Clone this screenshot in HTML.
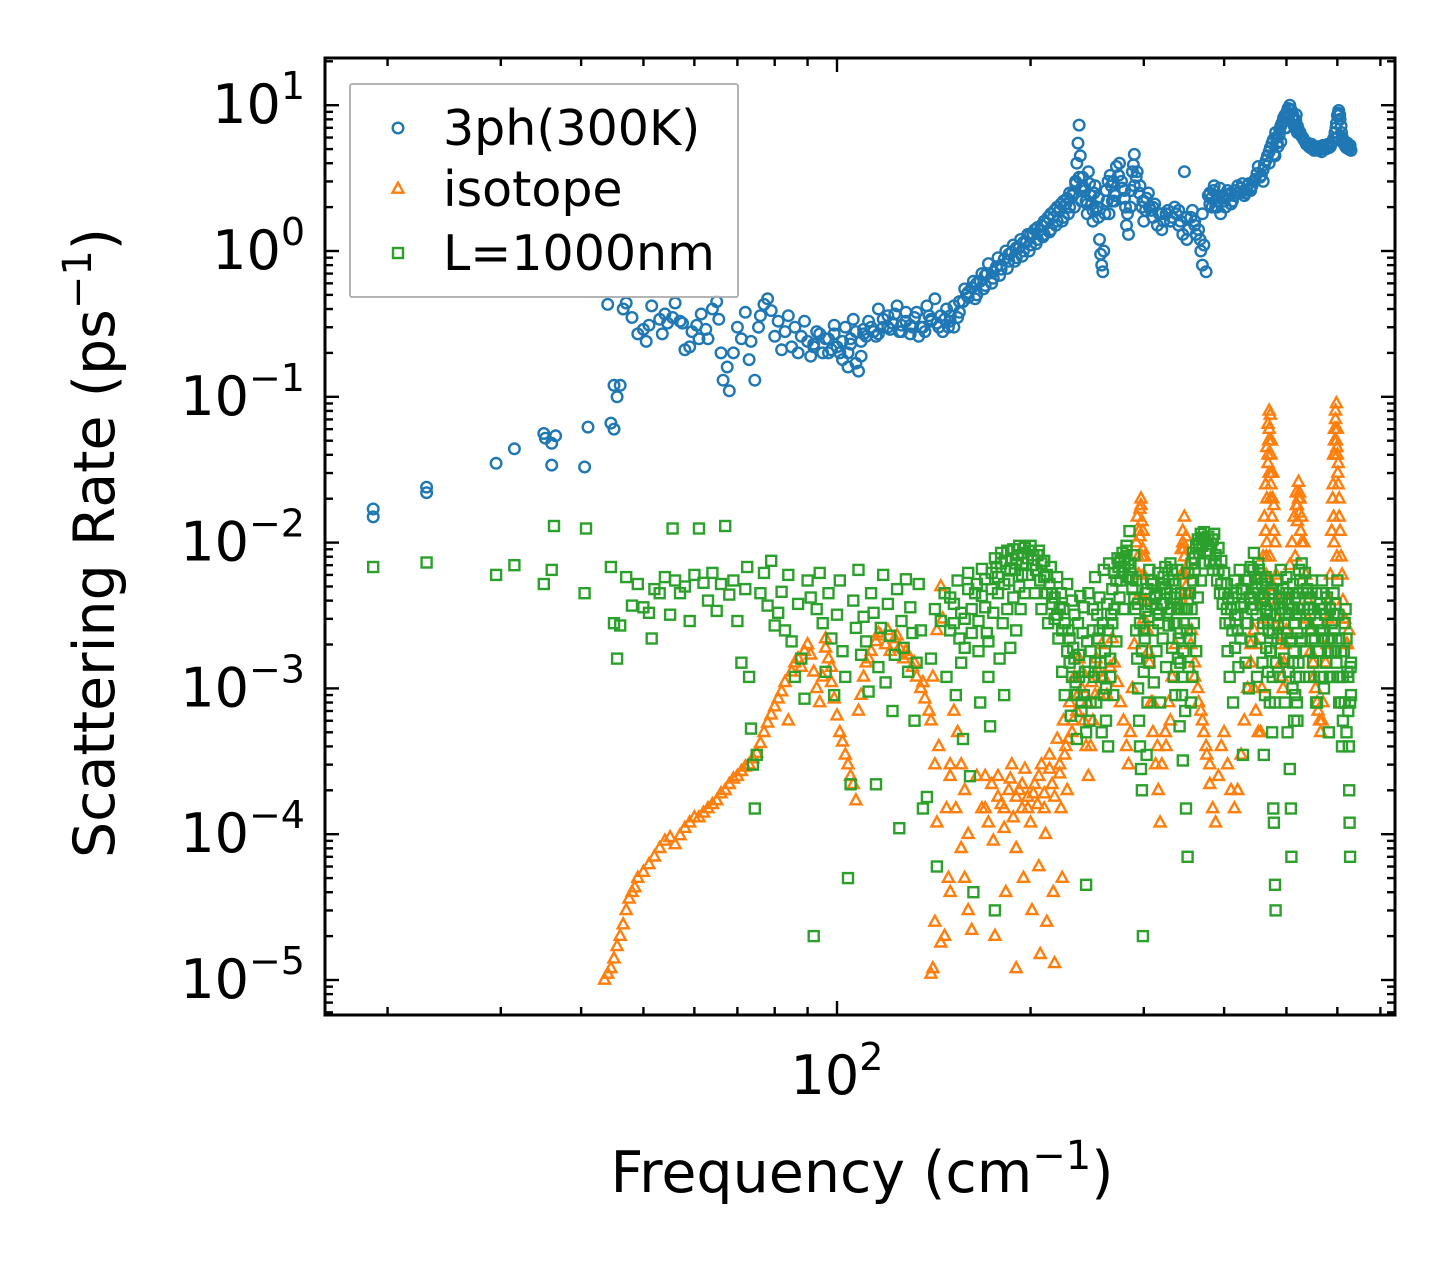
<!DOCTYPE html>
<html><head><meta charset="utf-8">
<style>
html,body{margin:0;padding:0;background:#fff;}
svg{display:block;font-family:"DejaVu Sans","Liberation Sans",sans-serif;}
</style></head>
<body>
<svg id="chart" width="1455" height="1265" viewBox="0 0 1455 1265" xmlns="http://www.w3.org/2000/svg">
<rect x="0" y="0" width="1455" height="1265" fill="#fff"/>
<g id="marks"></g>
<g id="axes"></g>
<g id="legend"></g>
</svg>
<script>
const blueFreq=[19,19,23,23,29.5,31.5,35,35.2,36,36,36.5,40.5,41,45,44.5,45.5,45,46,44,47,46.5,48,49,50,50.5,51,51.5,53,53.5,54,54.5,55.5,56,57,57.5,58,59,59.5,60.5,61,61.5,62.5,63,64,65,65.5,66,66.5,67.5,68,69,70,71,72,73,73.5,74.5,75.5,76,77,78,79,80,81,82,83,84,85,86,87,88,89,90,91,92,93,95,97,99,100,102,103,104,105,106,107,108,109,110,112,114,116,118,120,122,124,126,128,130,132,134,136,138,140,142,144,146,148,150,152,155,158,160,163,165,168,170,172,175,178,180,183,185,188,190,193,195,198,200,203,205,208,210,213,215,218,220,223,225,228,230,233,235,236,237,238,239,240,241,243,245,246,248,250,252,254,256,257,258,259,260,262,264,266,268,270,272,275,277,280,282,284,286,288,290,292,295,298,300,303,306,310,315,320,325,330,335,340,347,345,350,355,360,365,368,370,372,375,378,380,382,385,388,392,395,400,405,410,415,420,425,430,435,440,445,450,455,460,465,470,475,478,482,485,488,492,495,498,500,503,506,509,512,515,518,520,525,530,535,540,545,550,555,560,565,570,575,580,585,590,595,598,600,603,606,609,612,615,620,625,628,630,
96,98,101,105,110,115,120,125,130,135,140,145,150,155,160,165,170,175,180,185,190,195,200,205,210,215,220,225,230,235,240,245,250,255,265,270,280,290,300,310,320,330,340,350,360,370,380,390,400,410,420,430,440,460,470,480,490,500,520,540,560,580,600,620];
const blueRate=[0.017,0.015,0.024,0.022,0.035,0.044,0.056,0.052,0.048,0.034,0.054,0.033,0.062,0.06,0.066,0.1,0.12,0.12,0.43,0.44,0.4,0.35,0.27,0.29,0.24,0.31,0.42,0.34,0.27,0.37,0.32,0.35,0.44,0.33,0.32,0.21,0.22,0.28,0.31,0.25,0.37,0.29,0.25,0.4,0.45,0.34,0.2,0.13,0.16,0.11,0.2,0.3,0.25,0.38,0.18,0.24,0.13,0.3,0.36,0.43,0.47,0.39,0.26,0.33,0.21,0.28,0.36,0.22,0.3,0.2,0.26,0.33,0.24,0.19,0.22,0.28,0.2,0.25,0.27,0.22,0.18,0.3,0.16,0.25,0.34,0.17,0.15,0.24,0.29,0.33,0.28,0.4,0.3,0.36,0.32,0.42,0.31,0.38,0.27,0.35,0.26,0.3,0.42,0.33,0.47,0.3,0.28,0.4,0.36,0.3,0.38,0.55,0.48,0.62,0.5,0.7,0.58,0.82,0.65,0.9,0.75,1.0,0.85,1.1,0.9,1.2,1.0,1.3,1.1,1.4,1.2,1.5,1.3,1.7,1.4,1.9,1.6,2.1,1.7,2.3,2.0,2.5,3.0,4.0,5.5,7.3,4.5,2.2,3.2,2.6,1.8,3.5,2.4,1.6,2.8,2.0,1.2,0.95,0.8,0.72,1.0,2.6,3.0,3.3,2.2,2.5,3.8,4.0,3.0,2.3,1.5,1.3,2.0,3.5,4.6,3.2,2.5,2.0,1.6,2.3,2.0,1.7,1.5,1.4,1.8,1.6,2.0,1.5,3.5,1.3,1.2,1.7,1.5,1.4,1.0,0.8,1.1,0.72,2.4,2.5,2.3,2.6,2.0,2.4,1.8,2.2,2.6,2.5,2.4,2.8,2.7,2.6,2.8,2.7,3.0,3.4,3.2,3.6,4.2,4.8,5.5,4.6,6.0,5.2,6.8,7.5,8.2,7.0,8.8,9.5,10,9.2,8.5,7.8,8.6,7.2,6.5,6.0,5.6,5.3,5.1,5.0,5.2,4.9,5.0,5.3,5.0,5.4,5.2,5.6,6.5,7.5,8.5,9.2,8.0,6.5,5.8,5.4,5.1,5.0,5.3,4.9,
0.25,0.21,0.2,0.23,0.27,0.26,0.3,0.28,0.31,0.3,0.34,0.36,0.33,0.45,0.52,0.6,0.68,0.72,0.8,0.95,1.05,1.15,1.3,1.45,1.6,1.8,2.0,2.2,2.5,2.9,2.7,2.1,1.9,1.7,1.8,2.2,2.6,2.8,2.2,2.0,1.8,1.6,1.9,1.7,1.6,1.8,2.1,2.0,2.3,2.1,2.5,2.4,2.6,3.0,4.0,4.5,5.6,7.0,6.5,5.5,5.1,5.2,6.0,5.5];
const blueFreqB=[92,94,97,99,102,104,107,109,111,113,116,118,121,123,126,128,131,133,137,139,143,147,149,152,154,157,159,162,164,167,169,171,174,177,179,182,184,187,189,192,194,197,199,202,204,207,209,212,214,217,219,222,224,227,229,232,234,238,241,244,247,249,251,253,255,261,263,267,269,271,274,278,281,283,287,289,293,296,299,302,305,308,312,317,322,327,332,337,342,352,357,362,367,383,386,390,394,398,402,407,412,417,422,427,432,437,442,447,452,457,462,467,472,477,481,484,487,490,494,497,501,504,507,511,514,517,522,527,532,537,542,547,552,557,562,567,572,577,582,587,592,597,602,605,608,611,614,618,622,626];
const blueRateB=[0.23,0.27,0.2,0.31,0.24,0.2,0.28,0.19,0.26,0.3,0.27,0.34,0.29,0.37,0.28,0.33,0.3,0.38,0.28,0.36,0.32,0.34,0.3,0.42,0.35,0.45,0.5,0.56,0.47,0.62,0.55,0.7,0.6,0.78,0.68,0.88,0.76,0.98,0.85,1.05,0.92,1.15,1.0,1.3,1.12,1.4,1.25,1.55,1.35,1.7,1.5,1.9,1.6,2.1,1.8,2.4,2.0,3.2,2.8,2.2,2.9,2.1,2.5,1.9,2.3,1.8,2.2,2.8,3.0,2.4,3.3,2.7,2.0,1.8,2.6,3.9,3.5,2.8,2.2,1.9,2.5,1.9,2.1,1.8,1.6,1.9,1.7,1.8,1.6,1.4,1.9,1.3,1.2,2.0,2.8,2.2,2.7,2.4,2.0,2.4,2.2,2.6,2.5,2.9,2.5,2.9,2.8,3.1,3.8,3.3,3.9,4.5,5.1,5.8,6.5,5.5,6.2,7.2,7.8,8.5,9.0,8.2,9.4,8.0,7.2,7.9,6.8,6.2,5.8,5.4,5.2,5.4,4.9,5.1,5.2,4.8,5.1,5.3,5.1,5.4,5.9,7.0,8.8,8.6,7.2,6.0,5.6,5.2,5.5,5.1];
const orangeFreq=[43.5,44,44.5,45,45.5,46,46.5,47,47.5,48,48.5,49,50,51,52,53,54,55,56,57,58,59,60,61,62,63,64,65,66,67,68,69,70,71,72,73,74,75,76,77,78,79,80,81,82,83,84,85,86,87,88,89,90,91,92,93,94,95,96,97,98,99,100,101,102,103,104,105,106,107,108,109,110,111,113,115,117,119,121,123,125,127,129,131,133,135,137,139,141,143,145,146,144,142,143,142,141,140,145,147,148,149,150,152,154,156,158,160,158,160,162,165,168,170,172,175,176,178,180,182,183,185,187,188,190,190,192,194,195,196,198,200,201,203,205,206,207,208,210,211,212,214,216,217,218,220,222,223,224,225,227,228,230,232,234,236,238,240,242,244,246,248,250,252,255,258,260,263,266,268,270,273,276,279,282,284,286,288,290,292,294,295,296,297,298,299,300,302,304,306,308,310,313,316,318,320,324,328,332,336,340,343,345,347,349,351,353,356,360,364,368,372,376,380,384,388,392,396,400,405,410,415,420,425,430,435,440,445,448,452,456,458,460,462,464,466,468,470,472,474,476,478,480,482,484,486,490,494,498,502,506,510,514,518,522,525,528,532,536,540,545,550,555,560,565,570,575,580,585,588,591,594,596,598,600,602,604,606,610,614,620,625,
468,470,473,466,472,475,465,296,298,294,346,348,344,520,524,526,594,597,599,601,592,473,469,463];
const orangeRate=[1.0e-5,1.1e-5,1.2e-5,1.4e-5,1.7e-5,2.0e-5,2.4e-5,3.0e-5,3.6e-5,4.0e-5,4.3e-5,5.0e-5,5.5e-5,6.2e-5,7.0e-5,8.0e-5,9.0e-5,9.5e-5,8.5e-5,9.8e-5,1.1e-4,1.2e-4,1.3e-4,1.3e-4,1.4e-4,1.5e-4,1.6e-4,1.7e-4,1.9e-4,2.0e-4,2.2e-4,2.4e-4,2.5e-4,2.7e-4,2.9e-4,3.0e-4,3.3e-4,3.6e-4,4.2e-4,5.0e-4,5.8e-4,6.6e-4,7.5e-4,8.5e-4,9.5e-4,1.1e-3,6e-4,1.3e-3,1.5e-3,1.6e-3,1.4e-3,1.8e-3,2.0e-3,1.7e-3,1.3e-3,1.0e-3,8e-4,1.2e-3,1.9e-3,1.6e-3,1.1e-3,8.5e-4,6.5e-4,5e-4,4.3e-4,3.5e-4,3e-4,2.5e-4,2.2e-4,1.7e-4,7e-4,9e-4,1.2e-3,1.5e-3,1.8e-3,2.1e-3,2.3e-3,2.0e-3,1.8e-3,2.2e-3,1.9e-3,1.6e-3,1.7e-3,1.4e-3,1.2e-3,1.0e-3,8.5e-4,7e-4,1.2e-3,2.5e-3,5e-3,3e-3,4e-4,3e-4,1.2e-4,2.5e-5,1.2e-5,1.1e-5,1.8e-5,2.0e-5,1.5e-4,5e-5,2.5e-4,7e-4,5e-4,3e-4,2e-4,1e-4,5e-5,3e-5,2.2e-5,2.5e-4,1.5e-4,2.5e-4,1.2e-4,9e-5,2e-5,2.5e-4,1.6e-4,1.1e-4,4e-5,2e-4,3e-4,1.3e-4,8e-5,1.2e-5,2e-4,1.5e-4,5e-5,2.8e-4,1.8e-4,1.2e-4,3e-5,2.2e-4,1.6e-4,6e-5,1.5e-5,3e-4,1.9e-4,1.0e-4,2.5e-5,3.5e-4,2.2e-4,4e-5,1.3e-5,4.5e-4,3e-4,1.5e-4,5e-5,6e-4,4e-4,2e-4,8e-4,5e-4,1.2e-3,7e-4,1.6e-3,1e-3,6e-4,4e-4,2.5e-4,4e-4,6e-4,9e-4,1.3e-3,2e-3,1.2e-3,9e-4,1.4e-3,2.2e-3,1.5e-3,1.1e-3,8e-4,6e-4,4e-4,3e-4,5e-4,1e-3,2e-3,4e-3,8e-3,0.012,0.017,0.02,0.014,0.009,0.006,0.004,2.5e-3,1.5e-3,8e-4,5e-4,3e-4,2e-4,1.2e-4,3e-4,5e-4,8e-4,1.2e-3,2e-3,3.5e-3,6e-3,0.01,0.015,0.011,0.007,0.004,2.5e-3,1.5e-3,1e-3,7e-4,5e-4,3.5e-4,2.2e-4,1.5e-4,1.2e-4,2.5e-4,4e-4,5e-4,3e-4,2e-4,1.5e-4,2e-4,3.5e-4,6e-4,1e-3,2e-3,1e-3,7e-4,5e-4,5e-4,1e-3,3e-3,6e-3,0.012,0.02,0.035,0.06,0.075,0.05,0.03,0.018,0.01,0.006,0.004,2.5e-3,1.5e-3,1e-3,2e-3,4e-3,7e-3,0.01,0.015,0.022,0.026,0.02,0.015,0.01,0.006,0.004,2.5e-3,1.5e-3,1e-3,7e-4,5e-4,8e-4,1.5e-3,3e-3,6e-3,0.012,0.025,0.05,0.08,0.09,0.06,0.035,0.02,0.012,6e-3,3e-3,2e-3,2.5e-3,
0.04,0.03,0.04,0.01,0.02,0.015,0.008,0.011,0.008,0.006,0.009,0.006,0.006,0.018,0.022,0.012,0.04,0.06,0.045,0.03,0.015,0.025,0.05,0.004];
const orangeFreqB=[292,293,297,299,301,295,298,300,343,345,347,349,346,344,460,462,464,466,468,470,472,474,476,478,465,471,477,518,520,522,524,526,528,516,592,594,596,598,600,602,590,604,593,599,170,174,178,182,186,190,194,198,202,206,210,214,218,222,226,229,233,237,241,245,249,253,256,96,98,112,116,120,124,128,132,136,140,150,153,156,150,305,310,315,325,330,355,360,365,370,375,380,440,445,450,484,488,492,496,500,540,545,552,558,563,568,578,583,608,612,616,622];
const orangeRateB=[0.01,0.015,0.018,0.012,0.008,0.006,0.004,0.003,0.009,0.012,0.008,0.005,0.006,0.004,0.008,0.015,0.025,0.045,0.065,0.08,0.05,0.03,0.02,0.012,0.006,0.008,0.005,0.018,0.014,0.02,0.016,0.012,0.01,0.008,0.04,0.06,0.07,0.05,0.04,0.025,0.02,0.015,0.01,0.008,1.5e-4,2.2e-4,1.8e-4,1.5e-4,2.4e-4,1.8e-4,2.2e-4,1.5e-4,1.9e-4,2.5e-4,1.5e-4,2.8e-4,1.8e-4,2.6e-4,3.5e-4,4.5e-4,6e-4,9e-4,1.3e-3,8e-4,1.1e-3,1.6e-3,9e-4,2.2e-3,1.4e-3,1.6e-3,2.4e-3,2.5e-3,2.3e-3,1.8e-3,1.5e-3,1.1e-3,6e-4,3e-4,1.5e-4,8e-5,4e-5,1.8e-3,8e-4,4e-4,4e-4,6e-4,2e-3,1.2e-3,8e-4,6e-4,4e-4,3e-4,1.5e-3,2.5e-3,2e-3,3e-3,2e-3,1.2e-3,1.5e-3,2.5e-3,3e-3,1.8e-3,1.2e-3,8e-4,6e-4,6e-4,2e-3,4e-3,8e-3,4e-3,3e-3,2e-3];
const greenFreq=[19,23,29.5,31.5,35,36,36.3,40.5,40.7,44.5,45,45.5,46,47,48,49,50,51,51.5,52,53,54,55,55.5,56,57,58,59,60,61,62,63,64,65,66,67,68,69,70,71,72,72.5,73,73.5,74,74.5,75,76,77,78,79,80,81,82,83,84,85,86,87,88,89,90,91,92,93,94,95,96,97,98,99,100,101,102,103,104,105,106,107,108,109,110,111,112,113,114,115,116,117,118,119,120,121,122,123,124,125,126,127,128,129,130,131,132,133,134,135,136,138,140,142,143,145,147,148,150,152,153,155,156,157,158,160,161,162,163,165,166,167,168,170,171,172,173,174,175,176,177,178,179,180,181,182,183,184,185,186,187,188,189,190,191,192,193,194,195,196,198,200,202,203,205,207,208,210,212,213,215,216,218,220,221,223,224,225,226,228,229,230,231,232,233,234,235,236,237,238,239,240,241,242,243,244,245,246,247,248,250,251,252,253,255,256,257,258,259,260,261,262,263,264,265,266,267,268,269,270,272,273,275,276,278,279,280,282,284,285,286,288,290,291,292,293,294,295,296,297,298,299,300,301,302,303,304,305,306,308,310,311,313,314,316,317,318,320,321,322,324,325,326,328,330,331,332,333,334,335,336,337,338,339,340,341,342,343,344,345,346,347,348,349,350,351,352,353,354,355,356,357,358,359,360,362,364,366,368,370,372,374,376,378,380,382,384,386,388,390,392,394,396,398,400,402,404,405,406,408,410,412,413,415,416,418,420,421,423,424,426,428,430,432,433,435,437,438,440,441,443,444,445,447,449,450,452,453,455,456,458,459,460,461,462,463,464,465,466,467,468,469,470,471,472,473,474,475,476,477,478,479,480,481,482,484,485,487,488,490,491,493,494,496,497,498,500,501,502,503,504,505,506,507,508,509,510,511,512,513,514,515,516,517,518,519,520,521,522,523,524,525,526,528,530,532,534,536,538,540,542,544,546,548,550,552,554,556,558,560,562,564,565,567,568,570,572,574,576,578,580,582,584,586,588,590,592,594,596,598,600,602,604,606,608,610,612,614,616,618,620,622,624,625,626,627,628,629,630];
const greenRate=[0.0068,0.0073,0.006,0.007,0.0052,0.0065,0.013,0.0045,0.0125,0.0068,0.0028,0.0016,0.0027,0.0058,0.0037,0.0052,0.0036,0.0033,0.0022,0.0048,0.0045,0.0058,0.0032,0.0125,0.0055,0.0045,0.005,0.0029,0.006,0.0125,0.0053,0.004,0.0062,0.0034,0.0052,0.013,0.0044,0.0055,0.0029,0.0015,0.0048,0.0068,0.0012,0.00053,0.0003,0.00015,0.00035,0.0045,0.0062,0.0037,0.0075,0.0027,0.0033,0.0046,0.0025,0.006,0.0021,0.0012,0.0038,0.0016,0.00085,0.0055,0.0042,2e-5,0.0035,0.0062,0.0028,0.0013,0.0045,0.0022,0.0009,0.0032,0.0055,0.0018,0.0012,5e-5,0.00022,0.004,0.0026,0.0065,0.0017,0.0031,0.0021,0.00095,0.0045,0.0033,0.00022,0.0014,0.0026,0.006,0.0011,0.0038,0.0023,0.0007,0.0017,0.0048,0.00011,0.0029,0.0019,0.0056,0.0013,0.0036,0.0024,0.0006,0.0015,0.0052,0.0025,0.00015,0.00018,0.0016,0.0035,6e-5,0.0029,0.0045,0.0012,0.0025,0.0038,0.0009,0.0022,0.0015,0.00045,0.003,0.0048,0.00025,0.0035,4e-5,0.0052,0.0018,0.0008,0.0043,0.0056,0.0024,0.0012,0.00055,0.0062,0.0033,3e-5,0.0068,0.0045,0.0016,0.0072,0.0028,0.0009,0.0075,0.0035,0.0055,0.0019,0.0078,0.0042,0.0065,0.0025,0.0082,0.005,0.0035,0.0072,0.0085,0.0045,0.006,0.0088,0.007,0.0045,0.0082,0.0055,0.0035,0.0075,0.006,0.0028,0.0068,0.0045,0.003,0.0058,0.0022,0.0045,0.0013,0.0035,0.0009,0.0052,0.0025,0.0015,0.00065,0.004,0.0019,0.0032,0.0011,0.00045,0.0028,0.0017,0.0043,0.0008,0.0024,0.0036,0.0013,4.5e-5,0.0021,0.0045,0.0006,0.0018,0.0035,0.0012,0.0058,0.0008,0.0022,0.0042,0.0015,0.0005,0.0028,0.0065,0.0018,0.001,0.0038,0.0025,0.0072,0.0012,0.0032,0.0048,0.0009,0.0062,0.0021,0.0078,0.0042,0.0055,0.0085,0.0035,0.0068,0.0095,0.0058,0.012,0.0072,0.0048,0.0082,0.0035,0.0025,0.0016,0.001,0.0006,0.0004,0.00028,0.0002,2e-5,0.0013,0.0022,0.0045,0.00035,0.0008,0.0031,0.0015,0.0055,0.0025,0.0011,0.0043,0.0018,0.0062,0.0032,0.0008,0.0052,0.0022,0.0038,0.0068,0.0014,0.0045,0.0027,0.0072,0.0035,0.0019,0.0055,0.0012,0.0042,0.0009,0.0028,0.0065,0.0016,0.0035,0.00055,0.0024,0.0045,0.0012,0.00032,0.0018,0.0035,0.0007,0.00015,0.0025,7e-5,0.0014,0.0045,0.0022,0.0008,0.0035,0.0012,0.0055,0.0028,0.0065,0.0018,0.0042,0.0085,0.0055,0.0095,0.0072,0.0105,0.0088,0.011,0.0075,0.0098,0.0065,0.0115,0.0082,0.0055,0.0092,0.0045,0.0075,0.0038,0.0062,0.0028,0.0052,0.0018,0.0042,0.0012,0.0035,0.0025,0.0008,0.0055,0.0019,0.0045,0.0032,0.0014,0.0065,0.0022,0.0048,0.00035,0.0038,0.0015,0.0055,0.0028,0.001,0.0042,0.0068,0.0021,0.0035,0.0045,0.0085,0.0058,0.0032,0.0012,0.0045,0.0065,0.0022,0.0038,0.0052,0.0015,0.0028,0.00035,0.0042,0.0009,0.0058,0.0019,0.0034,0.0055,0.0013,0.0025,0.0045,0.0008,0.0032,0.0018,0.0048,0.0005,0.0024,0.00015,0.00012,0.0038,4.5e-5,3e-5,0.0015,0.0055,0.0027,0.0042,0.0012,0.0065,0.0022,0.0035,0.0048,0.0016,0.0008,0.0033,0.0058,0.0024,0.0005,0.0038,0.0013,0.0045,0.00028,0.0021,0.00015,7e-5,0.0035,0.001,0.0052,0.0018,0.0006,0.0028,0.0042,0.0012,0.0032,0.0008,0.0024,0.0045,0.0015,0.0065,0.0035,0.0055,0.0021,0.0072,0.0045,0.0028,0.0062,0.0018,0.0048,0.0035,0.0012,0.0042,0.0025,0.0055,0.0015,0.0035,0.0022,0.0045,0.0008,0.0028,0.0018,0.0038,0.0012,0.0045,0.0055,0.0025,0.001,0.0032,0.0015,0.0042,0.0022,0.0005,0.0035,0.0018,0.0028,0.0012,0.0045,0.0025,0.0038,0.0015,0.0055,0.0032,0.0022,0.0012,0.0008,0.0004,0.0006,0.0018,0.0028,0.0035,0.0022,0.0013,0.0007,0.0004,0.0002,0.00012,7e-5,0.0014,0.0009];
const greenFreqB=[150,152,154,156,158,160,162,164,166,168,170,172,174,176,178,180,182,184,186,188,190,192,194,196,198,200,202,204,206,208,210,212,214,216,218,220,222,224,226,228,230,232,234,236,238,240,242,244,246,248,250,252,254,256,258,260,262,264,266,268,270,272,274,276,278,280,282,284,286,288,290,292,294,296,298,300,302,304,306,308,310,312,314,316,318,320,322,324,326,328,330,332,334,336,338,340,342,344,346,348,350,352,354,356,358,360,362,364,366,368,370,372,376,380,384,388,392,396,400,404,408,412,416,420,424,428,432,436,440,444,448,452,456,460,464,468,472,476,480,484,488,492,496,500,504,508,512,516,520,524,528,532,536,540,544,548,552,556,560,564,568,572,576,580,584,588,592,596,600,604,608,612,616,620,624,628,630];
const greenRateB=[0.0042,0.0028,0.0055,0.0033,0.0019,0.0062,0.0024,0.0045,0.0029,0.0066,0.0036,0.0021,0.0048,0.0078,0.0058,0.0085,0.0052,0.0088,0.0066,0.009,0.0072,0.0095,0.006,0.0092,0.0078,0.0095,0.0082,0.0065,0.0088,0.0072,0.0058,0.0045,0.0052,0.0038,0.0042,0.0032,0.0036,0.0025,0.0028,0.0018,0.0022,0.0012,0.0016,0.0009,0.0012,0.0007,0.0009,0.0005,0.0013,0.0008,0.0025,0.0015,0.0032,0.0025,0.0012,0.0009,0.0006,0.0004,0.0016,0.0028,0.0035,0.0055,0.0068,0.0075,0.0062,0.0078,0.0088,0.0072,0.0065,0.0058,0.0042,0.0055,0.0038,0.0028,0.0018,0.0025,0.0034,0.0048,0.0065,0.0038,0.0052,0.0042,0.0035,0.0028,0.0045,0.0038,0.0058,0.0048,0.0033,0.0055,0.0042,0.0065,0.0028,0.0052,0.0038,0.0022,0.0015,0.0009,0.0028,0.0045,0.0035,0.0062,0.0045,0.0072,0.0085,0.0078,0.0095,0.0105,0.0098,0.0115,0.0108,0.0118,0.0098,0.0088,0.0105,0.0072,0.0065,0.0052,0.0045,0.0035,0.0028,0.0042,0.0032,0.0025,0.0036,0.0048,0.0028,0.0055,0.0042,0.0065,0.0048,0.0072,0.0058,0.0042,0.0035,0.0028,0.0018,0.0012,0.0008,0.0022,0.0035,0.0042,0.0028,0.0045,0.0032,0.0022,0.0015,0.0009,0.0006,0.0012,0.0022,0.0035,0.0028,0.0045,0.0032,0.0022,0.0012,0.0008,0.0018,0.0025,0.0035,0.0022,0.0032,0.0018,0.0012,0.0022,0.0032,0.0018,0.0012,0.0008,0.0018,0.0012,0.0008,0.0005,0.0012,0.0008,0.0015];

const X0=837, XD=643, Y0=251, YD=145.8;
const PL=325, PR=1395, PT=58, PB=1015;
function xs(f){return X0+XD*Math.log10(f/100);}
function ys(r){return Y0-YD*Math.log10(r);}
const NS="http://www.w3.org/2000/svg";
function mk(tag,attrs,parent){const e=document.createElementNS(NS,tag);for(const k in attrs)e.setAttribute(k,attrs[k]);parent.appendChild(e);return e;}

const marks=document.getElementById('marks');
const gB=mk('g',{fill:'none',stroke:'#1f77b4','stroke-width':2.4},marks);


const gO=mk('g',{fill:'none',stroke:'#ff7f0e','stroke-width':2.4},marks);


const gG=mk('g',{fill:'none',stroke:'#2ca02c','stroke-width':2.4},marks);



function circle(g,x,y){return mk('circle',{cx:x.toFixed(1),cy:y.toFixed(1),r:5.3},g);}
function tri(g,x,y){return mk('path',{d:`M${x.toFixed(1)} ${(y-6.3).toFixed(1)}L${(x+5.5).toFixed(1)} ${(y+3.7).toFixed(1)}L${(x-5.5).toFixed(1)} ${(y+3.7).toFixed(1)}Z`},g);}
function sq(g,x,y){return mk('rect',{x:(x-5).toFixed(1),y:(y-5).toFixed(1),width:10,height:10},g);}

function plotSeries(g,fr,rt,fn,name){
  for(let i=0;i<Math.min(fr.length,rt.length);i++){
    const el=fn(g,xs(fr[i]),ys(rt[i]));
    
    
  }
}
plotSeries(gB,blueFreq,blueRate,circle,'point-3ph');
plotSeries(gB,blueFreqB,blueRateB,circle,'point-3ph');
plotSeries(gO,orangeFreq,orangeRate,tri,'point-isotope');
plotSeries(gO,orangeFreqB,orangeRateB,tri,'point-isotope');
plotSeries(gG,greenFreq,greenRate,sq,'point-boundary');
plotSeries(gG,greenFreqB,greenRateB,sq,'point-boundary');

// axes
const axes=document.getElementById('axes');
const frame=mk('rect',{x:PL,y:PT,width:PR-PL,height:PB-PT,fill:'none',stroke:'#000','stroke-width':3},axes);


const tg=mk('g',{stroke:'#000','stroke-width':2.4},axes);


const yExps=[1,0,-1,-2,-3,-4,-5];
const yLabels=['1','0','\u22121','\u22122','\u22123','\u22124','\u22125'];
for(let d=-6;d<=1;d++){
  for(let m=1;m<10;m++){
    const y=ys(m*Math.pow(10,d));
    if(y<PT+1||y>PB-1)continue;
    const L=m===1?14:8;
    mk('line',{x1:PL,y1:y,x2:PL+L,y2:y},tg);
    mk('line',{x1:PR,y1:y,x2:PR-L,y2:y},tg);
  }
}
for(let d=1;d<=2;d++){
  for(let m=1;m<10;m++){
    const x=xs(m*Math.pow(10,d));
    if(x<PL+1||x>PR-1)continue;
    const L=m===1&&d===2?14:8;
    mk('line',{x1:x,y1:PB,x2:x,y2:PB-L},tg);
    mk('line',{x1:x,y1:PT,x2:x,y2:PT+L},tg);
  }
}
yExps.forEach((e,i)=>{
  const t=mk('text',{x:305,y:ys(Math.pow(10,e))+18,'font-size':54,'text-anchor':'end',fill:'#000'},axes);
  
  
  const a=document.createElementNS(NS,'tspan');a.textContent='10';t.appendChild(a);
  const b=document.createElementNS(NS,'tspan');b.setAttribute('dy','-24');b.setAttribute('font-size','38');b.textContent=yLabels[i];t.appendChild(b);
});
const xt=mk('text',{x:xs(100),y:1094,'font-size':54,'text-anchor':'middle',fill:'#000'},axes);


xt.innerHTML='<tspan>10</tspan><tspan dy="-24" font-size="38">2</tspan>';
const xl=mk('text',{x:862,y:1192,'font-size':57,'text-anchor':'middle',fill:'#000'},axes);


xl.innerHTML='Frequency (cm<tspan dy="-23" font-size="40">\u22121</tspan><tspan dy="23">)</tspan>';
const yl=mk('text',{x:0,y:0,'font-size':57,'text-anchor':'middle',fill:'#000',transform:'translate(114,543) rotate(-90)'},axes);


yl.innerHTML='Scattering Rate (ps<tspan dy="-23" font-size="40">\u22121</tspan><tspan dy="23">)</tspan>';

// legend
const lg=document.getElementById('legend');
const lb=mk('rect',{x:350,y:84,width:388,height:213,fill:'#fff','fill-opacity':0.8,stroke:'#aaa','stroke-width':1.8,rx:2},lg);


const entries=[['3ph(300K)','#1f77b4',circle,128],['isotope','#ff7f0e',tri,189],['L=1000nm','#2ca02c',sq,253]];
entries.forEach(en=>{
  const g=mk('g',{},lg);
  
  
  const mg=mk('g',{fill:'none',stroke:en[1],'stroke-width':2.4},g);
  en[2](mg,398,en[3]);
  const t=mk('text',{x:443,y:en[3]+17,'font-size':49,fill:'#000'},g);
  t.textContent=en[0];
});
</script>
</body></html>
